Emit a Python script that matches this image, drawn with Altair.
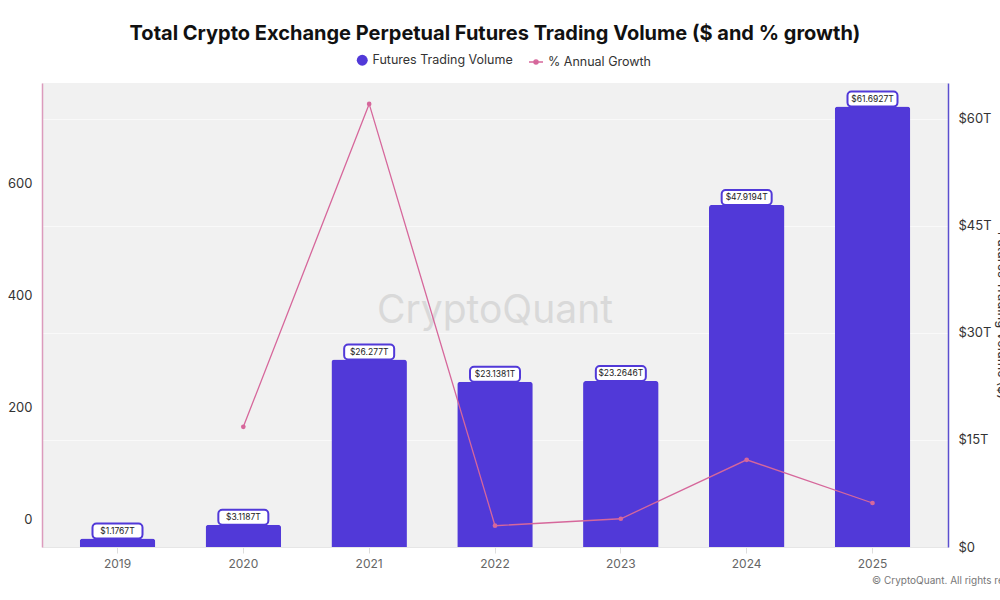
import altair as alt
import pandas as pd

years = ["2019", "2020", "2021", "2022", "2023", "2024", "2025"]
volume_t = [1.1767, 3.1187, 26.277, 23.1381, 23.2646, 47.9194, 61.6927]
volume_labels = ["$1.1767T", "$3.1187T", "$26.277T", "$23.1381T", "$23.2646T", "$47.9194T", "$61.6927T"]
growth_pct = [None, 165.0, 742.6, -11.9, 0.5, 106.0, 28.7]

PURPLE = "#5139d8"
PINK = "#d6679b"
FONT = "Inter"

df = pd.DataFrame({"year": years, "vol": volume_t, "label": volume_labels, "growth": growth_pct})

x_enc = alt.X("year:N", sort=years,
              scale=alt.Scale(paddingInner=0.4, paddingOuter=0.3),
              axis=alt.Axis(title=None, labelAngle=0, labelColor="#666", labelFontSize=12,
                            labelFont=FONT, labelPadding=5, tickColor="#dddddd", tickSize=6,
                            domainColor="#e6e6e6", grid=False))

vol_scale = alt.Scale(domain=[0, 65], nice=False, zero=True)

bars = alt.Chart(df).transform_calculate(s1="'Futures Trading Volume'").mark_bar(
    cornerRadiusTopLeft=3, cornerRadiusTopRight=3
).encode(
    x=x_enc,
    y=alt.Y("vol:Q", scale=vol_scale,
            axis=alt.Axis(orient="right", values=[0, 15, 30, 45, 60],
                          labelExpr="datum.value == 0 ? '$0' : '$' + datum.value + 'T'",
                          labelFontSize=13, labelColor="#333", labelFont=FONT, labelPadding=10,
                          ticks=False, domainColor="#5b4fcf", domainWidth=1.5,
                          grid=True, gridColor="#f9f9f9", gridWidth=1,
                          title="Futures Trading Volume ($)", titleFontSize=13,
                          titleFontWeight="normal", titleColor="#333", titleFont=FONT,
                          titlePadding=3)),
    color=alt.Color("s1:N", scale=alt.Scale(domain=["Futures Trading Volume"], range=[PURPLE]),
                    legend=alt.Legend(orient="none", legendX=314, legendY=-29, title=None,
                                      symbolType="circle", symbolSize=120, labelFontSize=12.5,
                                      labelFont=FONT, labelColor="#333", padding=0,
                                      symbolStrokeWidth=0))
)

boxes = alt.Chart(df).transform_calculate(top="datum.vol + 2.1").mark_bar(
    width=50, fill="white", stroke=PURPLE, strokeWidth=2, cornerRadius=4
).encode(
    x=alt.X("year:N", sort=years),
    y=alt.Y("vol:Q", scale=vol_scale),
    y2="top:Q"
)

labels = alt.Chart(df).transform_calculate(mid="datum.vol + 1.05").mark_text(
    fontSize=8.5, font=FONT, color="#222", baseline="middle"
).encode(
    x=alt.X("year:N", sort=years),
    y=alt.Y("mid:Q", scale=vol_scale),
    text="label:N"
)

watermark = alt.Chart(pd.DataFrame({"t": ["CryptoQuant"]})).mark_text(
    fontSize=39, font=FONT, color="#d9d9d9", baseline="middle", align="center"
).encode(x=alt.value(453), y=alt.value(228), text="t:N")

copyright_txt = alt.Chart(pd.DataFrame({"t": ["© CryptoQuant. All rights reserved"]})).mark_text(
    fontSize=10, font=FONT, color="#777", align="left", baseline="middle"
).encode(x=alt.value(830), y=alt.value(498), text="t:N")

vol_layer = alt.layer(watermark, bars, boxes, labels, copyright_txt)

line = alt.Chart(df).transform_filter("datum.growth != null").transform_calculate(
    s2="'% Annual Growth'"
).mark_line(
    strokeWidth=1.3, point=alt.OverlayMarkDef(size=22, filled=True)
).encode(
    x=alt.X("year:N", sort=years),
    y=alt.Y("growth:Q", scale=alt.Scale(domain=[-50, 780], nice=False, zero=False),
            axis=alt.Axis(orient="left", values=[0, 200, 400, 600], labelFontSize=13,
                          labelColor="#333", labelFont=FONT, labelPadding=10, ticks=False,
                          domainColor="#dc9bbd", domainWidth=1.5, grid=False,
                          title="% Annual Growth", titleFontSize=13, titleFontWeight="normal",
                          titleColor="#333", titleFont=FONT, titlePadding=8)),
    color=alt.Color("s2:N", scale=alt.Scale(domain=["% Annual Growth"], range=[PINK]),
                    legend=alt.Legend(orient="none", legendX=486, legendY=-29, title=None,
                                      symbolType="M-1,0L1,0M-0.3,0A0.3,0.3,0,1,1,0.3,0A0.3,0.3,0,1,1,-0.3,0",
                                      symbolSize=196, symbolStrokeWidth=1.3,
                                      symbolFillColor=PINK, symbolStrokeColor=PINK,
                                      labelFontSize=12.5, labelFont=FONT, labelColor="#333",
                                      padding=0, labelOffset=4))
)

chart = alt.layer(vol_layer, line).resolve_scale(y="independent", color="independent").properties(
    width=906, height=464,
    autosize=alt.AutoSizeParams(type="none"),
    padding={"left": 42, "top": 83, "right": 52, "bottom": 53},
    background="white",
    title=alt.TitleParams("Total Crypto Exchange Perpetual Futures Trading Volume ($ and % growth)",
                          font=FONT, fontSize=20, fontWeight="bold", color="#111",
                          anchor="middle", frame="group", offset=10)
).configure_view(fill="#f1f1f1", stroke=None)

chart.save("out.html", embed_options={"renderer": "svg", "actions": False})
